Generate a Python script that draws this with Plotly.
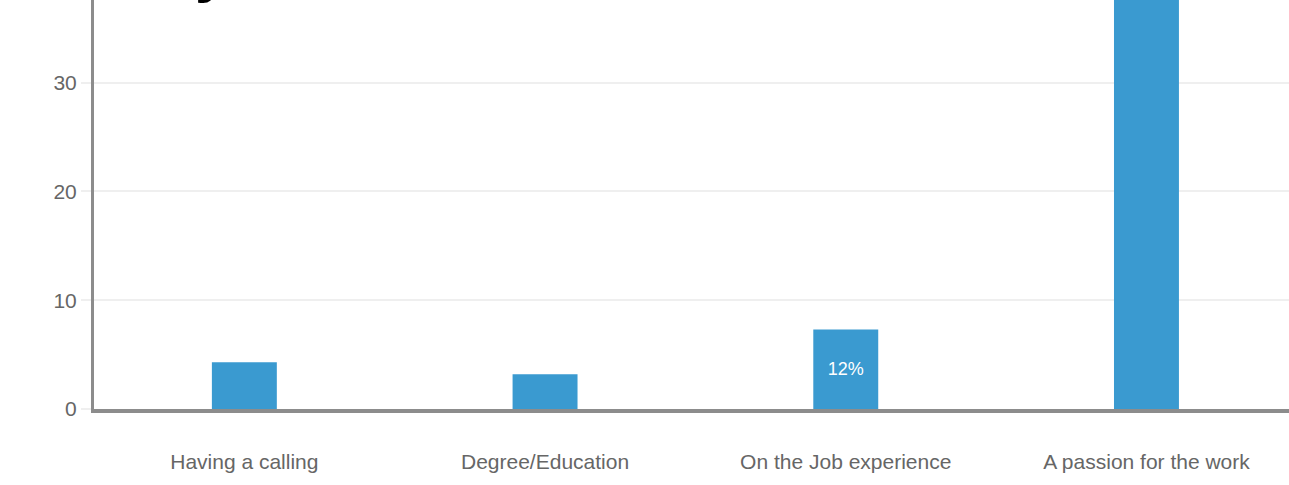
import plotly.graph_objects as go

# Survey responses: what matters most
categories = ["Having a calling", "Degree/Education", "On the Job experience", "A passion for the work"]
responses = [4.3, 3.2, 7.3, 46.0]
labelled = [False, False, True, False]

total = sum(responses)
bar_text = [f"{round(100 * v / total)}%" if show else "" for v, show in zip(responses, labelled)]

sans = "Liberation Sans, Arial, sans-serif"

fig = go.Figure(
    go.Bar(
        x=categories,
        y=responses,
        text=bar_text,
        textposition="inside",
        insidetextanchor="middle",
        textangle=0,
        textfont=dict(family=sans, size=18, color="white"),
        marker=dict(color="#3a9ad0", line=dict(width=0)),
        width=0.216,
        cliponaxis=True,
    )
)

fig.update_layout(
    width=1289,
    height=485,
    margin=dict(l=94, r=0, t=0, b=76),
    paper_bgcolor="white",
    plot_bgcolor="white",
    showlegend=False,
    uniformtext=dict(minsize=8, mode="show"),
    xaxis=dict(
        range=[-0.5, 3.474],
        showgrid=False,
        showline=True,
        linecolor="#8c8c8c",
        linewidth=4,
        ticks="",
        tickfont=dict(family=sans, size=21, color="#666666"),
        ticklabelstandoff=31,
        fixedrange=True,
    ),
    yaxis=dict(
        range=[0, 37.6],
        tickvals=[0, 10, 20, 30],
        showgrid=True,
        gridcolor="#efefef",
        gridwidth=2,
        zeroline=False,
        showline=True,
        linecolor="#8c8c8c",
        linewidth=3,
        ticks="outside",
        ticklen=10,
        tickcolor="#efefef",
        tickwidth=2,
        tickfont=dict(family=sans, size=21, color="#666666"),
        fixedrange=True,
    ),
    annotations=[
        dict(
            text="<b>y</b>",
            xref="paper",
            yref="paper",
            x=(212 - 94) / (1289 - 94),
            y=1,
            xanchor="center",
            yanchor="bottom",
            yshift=-6,
            showarrow=False,
            font=dict(family=sans, size=60, color="black"),
        )
    ],
)

fig.write_html("out.html", config={"displayModeBar": False})
